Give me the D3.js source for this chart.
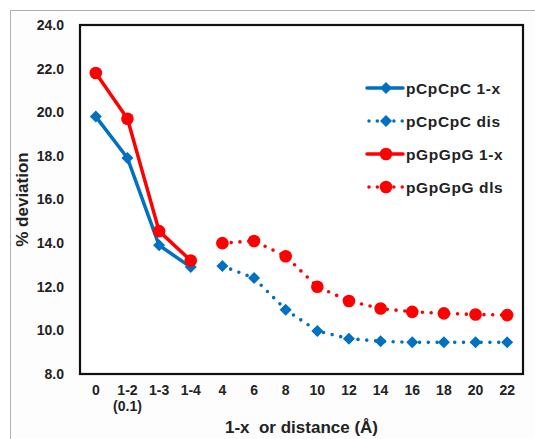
<!DOCTYPE html>
<html>
<head>
<meta charset="utf-8">
<script src="https://cdn.jsdelivr.net/npm/d3@7"></script>
<style>
  body { margin: 0; background: #fff; }
  svg { display: block; font-family: "Liberation Sans", Arial, sans-serif; }
</style>
</head>
<body>
<svg id="chart" width="535" height="439"></svg>
<script>
// categories along x (first four are "1-x", rest are distances in Å)
const categories = ['0', '1-2', '1-3', '1-4', '4', '6', '8', '10', '12', '14', '16', '18', '20', '22'];
const oneXCats = ['0', '1-2', '1-3', '1-4'];
const distCats = ['4', '6', '8', '10', '12', '14', '16', '18', '20', '22'];

const pCpCpC_1x = [19.8, 17.9, 13.9, 12.9];
const pCpCpC_dis = [12.95, 12.4, 10.95, 9.97, 9.62, 9.5, 9.45, 9.45, 9.45, 9.45];
const pGpGpG_1x = [21.8, 19.7, 14.55, 13.2];
const pGpGpG_dis = [14.0, 14.1, 13.4, 12.0, 11.35, 11.0, 10.85, 10.78, 10.73, 10.7];

const yTicks = [8, 10, 12, 14, 16, 18, 20, 22, 24];

const series = [
  { name: 'pCpCpC 1-x', cats: oneXCats, values: pCpCpC_1x, color: '#0070C0', dotted: false, marker: 'diamond' },
  { name: 'pCpCpC dis', cats: distCats, values: pCpCpC_dis, color: '#0070C0', dotted: true, marker: 'diamond' },
  { name: 'pGpGpG 1-x', cats: oneXCats, values: pGpGpG_1x, color: '#FF0000', dotted: false, marker: 'circle' },
  { name: 'pGpGpG dls', cats: distCats, values: pGpGpG_dis, color: '#FF0000', dotted: true, marker: 'circle' }
];

const svg = d3.select('#chart');
const plot = { left: 80, top: 25, right: 523, bottom: 374 };

// outer frame of the chart area
svg.append('rect')
  .attr('x', 10.5).attr('y', 10.5)
  .attr('width', 540).attr('height', 440)
  .attr('fill', '#fdfdfd')
  .attr('stroke', '#b0b0b0').attr('stroke-width', 1);

svg.append('rect')
  .attr('x', plot.left).attr('y', plot.top)
  .attr('width', plot.right - plot.left).attr('height', plot.bottom - plot.top)
  .attr('fill', '#fff');

const x = d3.scaleBand().domain(categories).range([plot.left, plot.right]);
const y = d3.scaleLinear().domain([8, 24]).range([plot.bottom, plot.top]);

// y axis labels
const yAxis = svg.append('g')
  .attr('transform', `translate(${plot.left},0)`)
  .call(d3.axisLeft(y).tickValues(yTicks).tickFormat(d3.format('.1f')).tickSize(0).tickPadding(16));
yAxis.select('.domain').remove();
yAxis.selectAll('text')
  .attr('font-family', '"Liberation Sans", Arial, sans-serif')
  .attr('font-size', 14).attr('font-weight', 'bold').attr('fill', '#222');

// x axis labels
const xAxis = svg.append('g')
  .attr('transform', `translate(0,${plot.bottom})`)
  .call(d3.axisBottom(x).tickSize(0).tickPadding(11));
xAxis.select('.domain').remove();
xAxis.selectAll('text')
  .attr('font-family', '"Liberation Sans", Arial, sans-serif')
  .attr('font-size', 14).attr('font-weight', 'bold').attr('fill', '#222');

svg.append('text')
  .attr('x', x('1-2') + x.bandwidth() / 2).attr('y', 411)
  .attr('text-anchor', 'middle')
  .attr('font-size', 14).attr('font-weight', 'bold').attr('fill', '#222')
  .text('(0.1)');

// axis titles
svg.append('text')
  .attr('x', (plot.left + plot.right) / 2).attr('y', 433)
  .attr('text-anchor', 'middle')
  .attr('font-size', 17).attr('font-weight', 'bold').attr('fill', '#222')
  .style('white-space', 'pre')
  .text('1-x  or distance (Å)');

svg.append('text')
  .attr('transform', `translate(28,${(plot.top + plot.bottom) / 2}) rotate(-90)`)
  .attr('text-anchor', 'middle')
  .attr('font-size', 17).attr('font-weight', 'bold').attr('fill', '#222')
  .text('% deviation');

// plot frame
svg.append('rect')
  .attr('x', plot.left).attr('y', plot.top)
  .attr('width', plot.right - plot.left).attr('height', plot.bottom - plot.top)
  .attr('fill', 'none').attr('stroke', '#111').attr('stroke-width', 2.2);

const cx = c => x(c) + x.bandwidth() / 2;
const line = d3.line().x(d => cx(d.c)).y(d => y(d.v));
// square-ish diamond like the spreadsheet marker
const diamondPath = d3.path();
diamondPath.moveTo(0, -6); diamondPath.lineTo(6, 0); diamondPath.lineTo(0, 6); diamondPath.lineTo(-6, 0); diamondPath.closePath();

function drawMarker(g, m, color, px, py) {
  if (m === 'circle') {
    g.append('circle').attr('cx', px).attr('cy', py).attr('r', 6.3).attr('fill', color);
  } else {
    g.append('path').attr('d', diamondPath.toString()).attr('transform', `translate(${px},${py})`).attr('fill', color);
  }
}

series.forEach(s => {
  const pts = s.cats.map((c, i) => ({ c, v: s.values[i] }));
  const g = svg.append('g');
  g.append('path')
    .datum(pts)
    .attr('d', line)
    .attr('fill', 'none')
    .attr('stroke', s.color)
    .attr('stroke-width', s.dotted ? 3.6 : 3.5)
    .attr('stroke-linecap', 'round')
    .attr('stroke-linejoin', 'round')
    .attr('stroke-dasharray', s.dotted ? '0,8.8' : null);
  pts.forEach(p => drawMarker(g, s.marker, s.color, cx(p.c), y(p.v)));
});

// legend
const legend = svg.append('g');
series.forEach((s, i) => {
  const ly = 88 + i * 33;
  legend.append('line')
    .attr('x1', s.dotted ? 369 : 367).attr('x2', 403)
    .attr('y1', ly).attr('y2', ly)
    .attr('stroke', s.color).attr('stroke-width', 3.5)
    .attr('stroke-linecap', 'round')
    .attr('stroke-dasharray', s.dotted ? '0,8.3' : null);
  drawMarker(legend, s.marker, s.color, 386, ly);
  legend.append('text')
    .attr('x', 406).attr('y', ly + 5.5)
    .attr('font-size', 15.5).attr('font-weight', 'bold').attr('fill', '#222')
    .attr('letter-spacing', 0.6)
    .text(s.name);
});
</script>
</body>
</html>
